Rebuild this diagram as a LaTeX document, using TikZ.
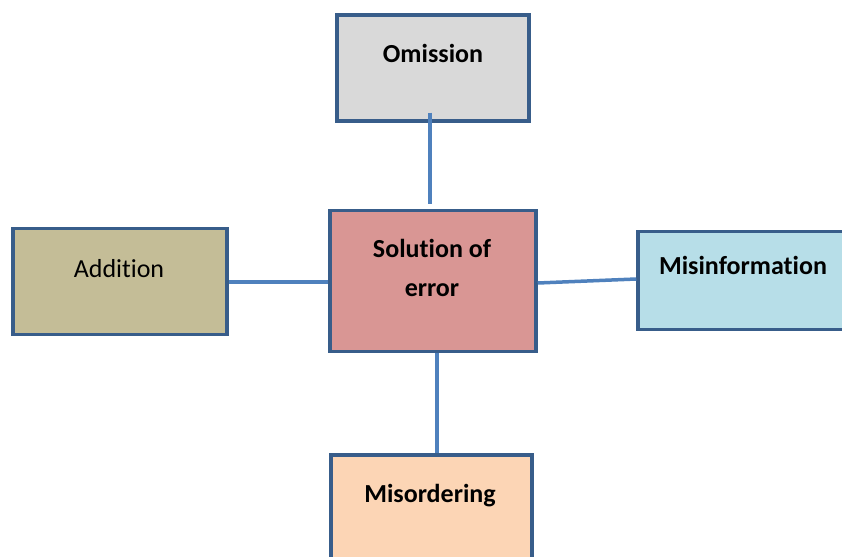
\documentclass[tikz,border=0pt]{standalone}
\usepackage{fontspec}
\setmainfont[Ligatures=NoCommon]{Carlito}
\usetikzlibrary{positioning}
\definecolor{bordure}{HTML}{385D8A}
\definecolor{trait}{HTML}{4F81BD}
\definecolor{gris}{HTML}{D9D9D9}
\definecolor{kaki}{HTML}{C4BD97}
\definecolor{rose}{HTML}{D99694}
\definecolor{bleu}{HTML}{B7DEE8}
\definecolor{peche}{HTML}{FCD5B5}
\tikzset{
  boite/.style = {rectangle, draw=bordure, line width=3.5pt,
    inner sep=0pt, minimum width=192pt, minimum height=106pt},% cadre
  texte/.style = {font=\fontsize{26}{39}\selectfont, align=center,
    inner sep=0pt, anchor=base},% texte normal
  texte_g/.style = {texte, font=\fontsize{26}{39}\selectfont\bfseries},% texte gras
  lien/.style = {draw=trait, line width=3.5pt}% trait de liaison
}
\begin{document}
\begin{tikzpicture}[x=1pt,y=-1pt]
\useasboundingbox (0,0) rectangle (842,556);
% les cadres
\node [boite, fill=rose, minimum width=206pt, minimum height=141pt] (solution) at (433,281) {};
\node [boite, fill=gris] (omission) at (433,68) {};
\node [boite, fill=kaki, minimum width=214pt] (addition) at (120,281.5) {};
\node [boite, fill=bleu, minimum width=210pt, minimum height=98pt] (misinfo) at (743,280.5) {};
\node [boite, fill=peche, minimum width=201pt] (misordering) at (431.5,508) {};
% les liens
\draw [lien] ([yshift=10pt]omission.south -| 430,0) -- ([yshift=5pt]solution.north -| 430,0);
\draw [lien] (addition.east |- 0,282) -- (solution.west |- 0,282);
\draw [lien] (solution.east |- 0,283) -- (misinfo.west |- 0,279);
\draw [lien] (solution.south -| 437,0) -- (misordering.north -| 437,0);
% les textes
\node [texte_g] (t_omission) at (433,63) {Omission};
\node [texte] (t_addition) at (119,277) {Addition};
\node [texte_g] (t_solution) at (432,296) {Solution of\\error};
\node [texte_g] (t_misinfo) at (743,274) {Misinformation};
\node [texte_g] (t_misordering) at (430,502) {Misordering};
\end{tikzpicture}
\end{document}
